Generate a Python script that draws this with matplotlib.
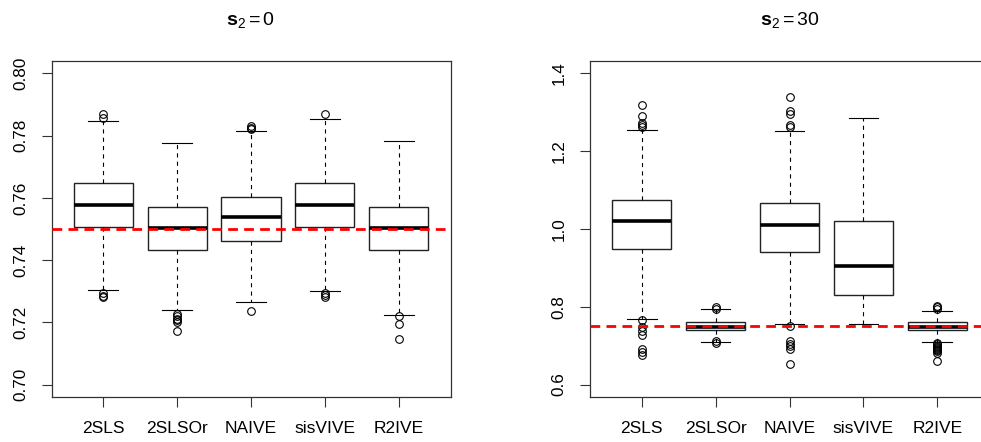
import matplotlib
matplotlib.use('Agg')
import matplotlib.pyplot as plt

# estimator names shared by both panels
labels = ['2SLS', '2SLSOr', 'NAIVE', 'sisVIVE', 'R2IVE']
true_value = 0.75

# panel 1: s2 = 0
left_q1 = [0.7508, 0.7434, 0.7462, 0.7508, 0.7434]
left_med = [0.7577, 0.7502, 0.7537, 0.7577, 0.7502]
left_q3 = [0.7647, 0.7572, 0.7604, 0.7647, 0.7572]
left_lo = [0.7303, 0.7239, 0.7265, 0.7302, 0.7223]
left_hi = [0.7846, 0.7778, 0.7814, 0.7854, 0.7782]
left_fliers = [
    [0.7870, 0.7857, 0.7294, 0.7286, 0.7283],
    [0.7228, 0.7219, 0.7212, 0.7206, 0.7201, 0.7172],
    [0.7830, 0.7826, 0.7823, 0.7236],
    [0.7871, 0.7294, 0.7288, 0.7283],
    [0.7219, 0.7194, 0.7147],
]
left_yticks = [0.70, 0.72, 0.74, 0.76, 0.78, 0.80]
left_yticklabels = ['0.70', '0.72', '0.74', '0.76', '0.78', '0.80']

# panel 2: s2 = 30
right_q1 = [0.9493, 0.7415, 0.9407, 0.8307, 0.7405]
right_med = [1.0206, 0.7492, 1.0095, 0.9038, 0.7492]
right_q3 = [1.0747, 0.7603, 1.0662, 1.0206, 0.7611]
right_lo = [0.7698, 0.7095, 0.7560, 0.7560, 0.7095]
right_hi = [1.2552, 0.7930, 1.2518, 1.2861, 0.7894]
right_fliers = [
    [1.3196, 1.2894, 1.2724, 1.2663, 1.2620, 0.7655, 0.7482, 0.7380, 0.7286, 0.6915, 0.6848, 0.6770],
    [0.7982, 0.7950, 0.7120, 0.7072],
    [1.3402, 1.3041, 1.2964, 1.2663, 1.2611, 0.7518, 0.7113, 0.7053, 0.6985, 0.6915, 0.6538],
    [],
    [0.8023, 0.7982, 0.7950, 0.7060, 0.7030, 0.7000, 0.6970, 0.6940, 0.6910, 0.6880,
     0.6850, 0.6820, 0.6606],
]
right_yticks = [0.6, 0.8, 1.0, 1.2, 1.4]
right_yticklabels = ['0.6', '0.8', '1.0', '1.2', '1.4']

plt.rcParams['font.family'] = ['Liberation Sans', 'DejaVu Sans']
plt.rcParams['mathtext.fontset'] = 'custom'
plt.rcParams['mathtext.rm'] = 'Liberation Sans'
plt.rcParams['mathtext.bf'] = 'Liberation Sans:bold'
plt.rcParams['mathtext.it'] = 'Liberation Sans:italic'
plt.rcParams['lines.scale_dashes'] = False


def draw_panel(ax, q1, med, q3, lo, hi, fliers, ylim, yticks, yticklabels, title):
    stats = []
    for i in range(len(labels)):
        stats.append(dict(med=med[i], q1=q1[i], q3=q3[i], whislo=lo[i],
                          whishi=hi[i], fliers=fliers[i], label=labels[i]))
    ax.bxp(stats, positions=range(1, len(labels) + 1), widths=0.8, capwidths=0.4,
           patch_artist=True,
           boxprops=dict(facecolor='white', edgecolor='#222222', linewidth=1.0),
           medianprops=dict(color='black', linewidth=2.6, solid_capstyle='butt'),
           whiskerprops=dict(color='black', linestyle=(0, (3, 3)), linewidth=0.8),
           capprops=dict(color='black', linewidth=0.8),
           flierprops=dict(marker='o', markerfacecolor='none', markeredgecolor='black',
                           markersize=5.5, markeredgewidth=0.8))
    # true value
    ax.axhline(true_value, color='red', linestyle=(0, (7, 4.5)), linewidth=2, zorder=5)

    ax.set_xlim(0.3, len(labels) + 0.7)
    ax.set_ylim(ylim)
    ax.set_yticks(yticks)
    ax.set_yticklabels(yticklabels, rotation=90, va='center')
    ax.set_xticks(range(1, len(labels) + 1))
    ax.set_xticklabels(labels)
    ax.tick_params(axis='x', length=7, width=0.8, pad=10, labelsize=12.5, color='#333333')
    ax.tick_params(axis='y', length=7, width=0.8, pad=10, labelsize=12.3, color='#333333')
    for sp in ax.spines.values():
        sp.set_color('#333333')
        sp.set_linewidth(0.9)
    ax.set_title(title, fontsize=14, pad=26)


fig = plt.figure(figsize=(9.81, 4.42), dpi=100)
ax1 = fig.add_axes([51.5 / 981, 45 / 442, 399 / 981, 336 / 442])
ax2 = fig.add_axes([590 / 981, 45 / 442, 399 / 981, 336 / 442])

draw_panel(ax1, left_q1, left_med, left_q3, left_lo, left_hi, left_fliers,
           (0.696, 0.804), left_yticks, left_yticklabels, r'$\mathbf{s}_2 = 0$')
draw_panel(ax2, right_q1, right_med, right_q3, right_lo, right_hi, right_fliers,
           (0.568, 1.432), right_yticks, right_yticklabels, r'$\mathbf{s}_2 = 30$')

fig.savefig('out.png', dpi=100)
